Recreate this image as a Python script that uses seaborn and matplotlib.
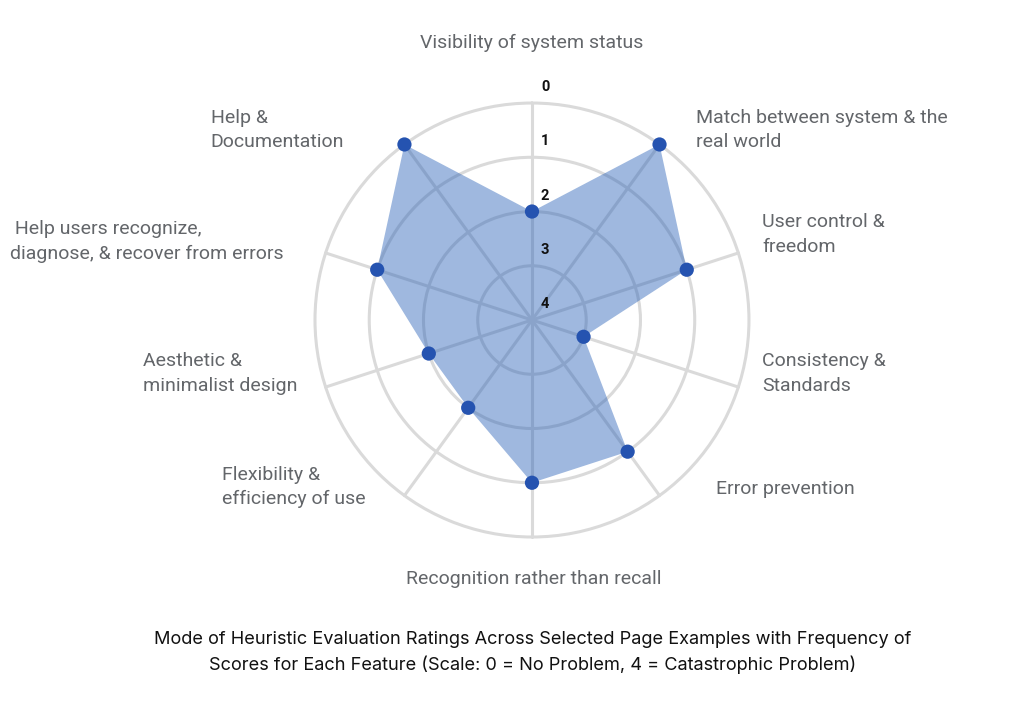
import numpy as np
import pandas as pd
import matplotlib
matplotlib.use("Agg")
import matplotlib.pyplot as plt
import seaborn as sns

categories = [
    "Visibility of system status",
    "Match between system & the\nreal world",
    "User control &\nfreedom",
    "Consistency &\nStandards",
    "Error prevention",
    "Recognition rather than recall",
    "Flexibility &\nefficiency of use",
    "Aesthetic &\nminimalist design",
    " Help users recognize,\ndiagnose, & recover from errors",
    "Help &\nDocumentation",
]
scores = [2, 0, 1, 3, 1, 1, 2, 2, 1, 0]
tick_values = [0, 1, 2, 3, 4]
title = ("Mode of Heuristic Evaluation Ratings Across Selected Page Examples with Frequency of\n"
         "Scores for Each Feature (Scale: 0 = No Problem, 4 = Catastrophic Problem)")

# label placement (offset in points from the outer ring at each axis, alignment)
label_style = [
    ((0, 43.5), "center"),
    ((26, 10.5), "left"),
    ((17, 13.3), "left"),
    ((17, 9.8), "left"),
    ((41, 5), "left"),
    ((1, -30.5), "center"),
    ((-28, 6), "right"),
    ((-20.5, 9.8), "right"),
    ((-30, 8.3), "right"),
    ((-43.5, 10.5), "right"),
]

sns.set_theme(style="white")
plt.rcParams["font.family"] = ["Roboto", "DejaVu Sans"]

fig = plt.figure(figsize=(10.26, 7.21), dpi=100)
fig.patch.set_facecolor("white")
ax = fig.add_axes([0.3070, 0.2552, 0.4230, 0.6019], projection="polar")

n = len(categories)
theta = np.linspace(0, 2 * np.pi, n, endpoint=False)
df = pd.DataFrame({"theta": theta, "score": scores, "cat": categories})

ax.set_theta_offset(np.pi / 2)
ax.set_theta_direction(-1)
ax.set_ylim(4, 0)

grid_color = "#dadada"
ax.set_xticks(theta)
ax.set_xticklabels([])
ax.set_yticks([0, 1, 2, 3])
ax.set_yticklabels([])
ax.grid(True, color=grid_color, linewidth=2.2)
for gl in ax.yaxis.get_gridlines() + ax.xaxis.get_gridlines():
    gl.set_clip_on(False)
ax.spines["polar"].set_visible(False)
ax.set_facecolor("white")
ax.tick_params(pad=0)

closed_t = np.append(theta, theta[0])
closed_s = np.append(df["score"].values, df["score"].values[0])
ax.fill(closed_t, closed_s, color="#2a62b8", alpha=0.45, linewidth=0, zorder=3)
sns.scatterplot(data=df, x="theta", y="score", ax=ax, color="#2553b0", s=105,
                edgecolor="none", zorder=4, clip_on=False, legend=False)
ax.set_xlabel("")
ax.set_ylabel("")

for t, cat, (off, ha) in zip(theta, categories, label_style):
    ax.annotate(cat, xy=(t, 0), xytext=off, textcoords="offset points",
                ha=ha, va="center", fontsize=14, color="#63666a",
                multialignment="left", linespacing=1.45, annotation_clip=False)

for v in tick_values:
    ax.annotate(str(v), xy=(0, v), xytext=(9.5, 11.5), textcoords="offset points",
                ha="center", va="center", fontsize=10.5, fontweight="bold",
                color="#111111", annotation_clip=False, zorder=5)

fig.text(0.5195, 0.0950, title, ha="center", va="center", fontsize=13.1,
         color="#111111", linespacing=1.55, family=["Inter", "DejaVu Sans"])

fig.savefig("out.png", dpi=100, facecolor="white")
